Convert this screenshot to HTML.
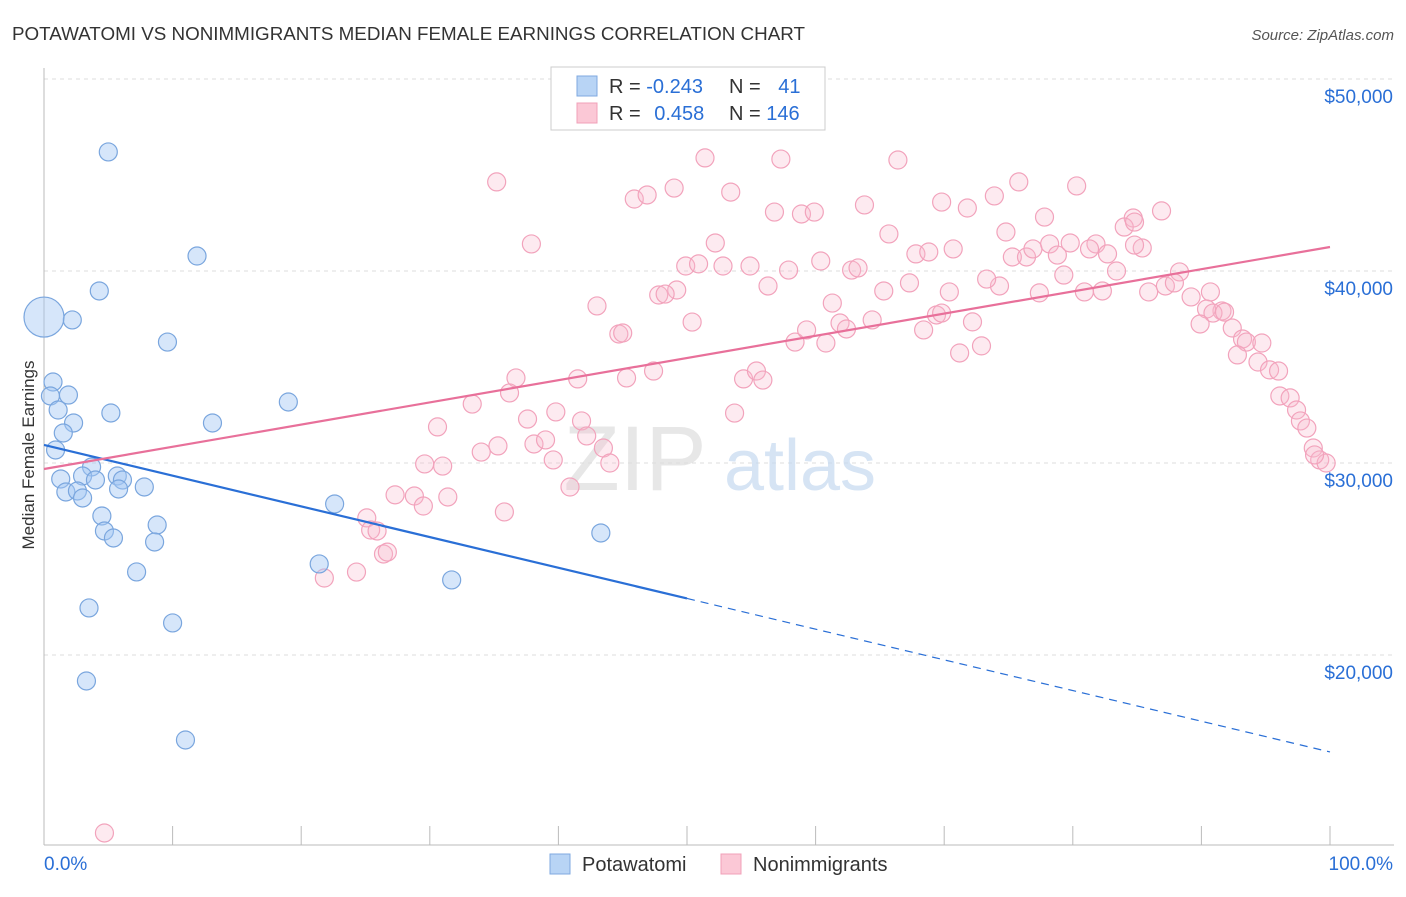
<!DOCTYPE html>
<html><head><meta charset="utf-8">
<style>
body{margin:0;background:#fff;font-family:"Liberation Sans",sans-serif;}
svg text{font-family:"Liberation Sans",sans-serif;}
</style></head>
<body>
<svg id="chart" width="1406" height="892" viewBox="0 0 1406 892">
<text x="12" y="40" font-size="18" fill="#333" textLength="793" lengthAdjust="spacingAndGlyphs">POTAWATOMI VS NONIMMIGRANTS MEDIAN FEMALE EARNINGS CORRELATION CHART</text>
<text x="1394" y="40" font-size="15" fill="#555" font-style="italic" text-anchor="end">Source: ZipAtlas.com</text>
<g id="grid"></g>
<g id="watermark">
<text x="635" y="490" font-size="92" fill="#ddd" font-family="Liberation Serif" text-anchor="middle" opacity="0.7">ZIP</text>
<text x="800" y="490" font-size="72" fill="#c5d9f0" text-anchor="middle" opacity="0.7">atlas</text>
</g>
<g id="axes"></g>
<g id="pts"></g>
<g id="trends"></g>
<text transform="translate(34,455) rotate(-90)" font-size="17" fill="#333" text-anchor="middle">Median Female Earnings</text>
<g>
<rect x="551" y="67" width="274" height="63" fill="#fff" stroke="#ccc"/>
<rect x="577" y="76" width="20" height="20" fill="#b8d4f5" stroke="#7fa9e0"/>
<rect x="577" y="103" width="20" height="20" fill="#fbc8d6" stroke="#f0a0b8"/>
<text x="609" y="93" font-size="20" fill="#333">R = <tspan fill="#2a6fd6">-0.243</tspan></text>
<text x="729" y="93" font-size="20" fill="#333">N = <tspan fill="#2a6fd6" dx="12">41</tspan></text>
<text x="609" y="120" font-size="20" fill="#333">R = <tspan fill="#2a6fd6" dx="8">0.458</tspan></text>
<text x="729" y="120" font-size="20" fill="#333">N = <tspan fill="#2a6fd6">146</tspan></text>
</g>
<g>
<rect x="550" y="854" width="20" height="20" fill="#b8d4f5" stroke="#7fa9e0"/>
<text x="582" y="871" font-size="20" fill="#333">Potawatomi</text>
<rect x="721" y="854" width="20" height="20" fill="#fbc8d6" stroke="#f0a0b8"/>
<text x="753" y="871" font-size="20" fill="#333">Nonimmigrants</text>
</g>
</svg>
<script>
const yTicks=[20000,30000,40000,50000];
const yTickLabels=["$20,000","$30,000","$40,000","$50,000"];
const xTicks=[0,10,20,30,40,50,60,70,80,90,100];
const blueX=[5.0,11.9,4.3,2.2,9.6,0.7,0.5,1.9,1.1,5.2,2.3,1.5,13.1,19.0,0.9,3.7,1.3,3.0,4.0,5.7,6.1,7.8,1.7,2.6,3.0,5.8,4.5,8.8,4.7,5.4,8.6,22.6,7.2,3.5,10.0,21.4,31.7,43.3,3.3,11.0];
const blueY=[46200,40780,38960,37450,36300,34220,33490,33540,32760,32605,32085,31564,32085,33178,30678,29793,29168,29324,29116,29324,29116,28751,28491,28543,28178,28647,27241,26772,26460,26095,25887,27866,24325,22450,21669,24742,23909,26356,18647,15574];
const blueBigX=[0];
const blueBigY=[37600];
const pinkX=[4.7,35.2,37.9,43.0,45.9,46.9,49.0,51.4,53.4,57.3,66.4,56.8,58.9,59.9,63.8,52.2,49.9,50.9,52.8,54.9,57.9,60.4,62.8,63.3,65.7,67.8,68.8,69.8,70.7,71.8,73.9,75.8,74.8,77.8,80.3,81.8,84.7,86.9,85.4,75.3,76.4,76.9,78.2,78.8,79.8,81.3,82.7,84.0,84.8,83.4,79.3,74.3,73.3,70.4,67.3,65.3,61.3,56.3,49.2,47.8,48.3,50.4,44.7,45.0,36.7,41.5,45.3,47.4,54.4,55.4,55.9,58.4,59.3,60.8,61.9,62.4,64.4,68.4,69.4,69.8,72.2,72.9,71.2,77.4,80.9,82.3,85.9,87.2,88.3,87.9,89.2,90.7,91.6,90.4,90.9,91.8,89.9,92.4,93.2,93.5,94.7,92.8,94.4,95.3,96.0,96.1,96.9,97.4,97.7,98.2,98.7,99.2,99.7,98.8,33.3,36.2,37.6,39.8,41.8,35.3,38.1,39.0,42.2,43.5,39.6,44.0,30.6,29.6,31.0,34.0,27.3,28.8,29.5,31.4,35.8,40.9,25.1,25.4,25.9,26.4,26.7,24.3,21.8,53.7,51.8,84.8];
const pinkY=[10730,44640,41410,38180,43750,43960,44320,45890,44110,45830,45780,43070,42970,43070,43440,41460,40260,40370,40260,40260,40050,40520,40050,40160,41930,40890,40990,43590,41150,43280,43910,44640,42030,42810,44430,41410,42760,43130,41200,40730,40730,41150,41410,40830,41460,41150,40890,42290,42550,40000,39790,39220,39580,38910,39380,38960,38330,39220,39010,38750,38800,37340,36720,36770,34430,34380,34430,34790,34380,34790,34320,36300,36930,36250,37290,36980,37450,36930,37710,37810,37350,36100,35730,38860,38910,38960,38910,39220,39950,39380,38650,38910,37920,38020,37810,37860,37240,37030,36460,36300,36250,35630,35260,34850,34790,33490,33390,32760,32190,31820,30780,30160,30000,30420,33070,33650,32290,32660,32190,30890,30990,31200,31410,30780,30160,30000,31880,29950,29840,30570,28340,28280,27760,28230,27450,28750,27140,26510,26460,25260,25360,24320,24010,32600,48750,41350];
const blueTrend=[30938,14950];
const pinkTrend=[29688,41250];

const NS="http://www.w3.org/2000/svg";
const X=p=>44+p*12.86;
const Y=v=>79+(50000-v)*0.0192;
function mk(tag,attrs,parent){const e=document.createElementNS(NS,tag);for(const k in attrs)e.setAttribute(k,attrs[k]);document.getElementById(parent).appendChild(e);return e;}

yTicks.forEach((t,i)=>{
  const l=mk('line',{x1:44,x2:1394,y1:Y(t),y2:Y(t),stroke:'#ddd','stroke-dasharray':'4,4'},'grid');
  
  
  const tx=mk('text',{x:1393,y:Y(t)+24,'font-size':19,fill:'#2a6fd6','text-anchor':'end'},'axes');
  tx.textContent=yTickLabels[i];
  
  
});
const ax=mk('line',{x1:44,x2:1394,y1:845,y2:845,stroke:'#bbb'},'axes');


const ay=mk('line',{x1:44,x2:44,y1:68,y2:845,stroke:'#bbb'},'axes');


xTicks.forEach(t=>{
  const l=mk('line',{x1:X(t),x2:X(t),y1:826,y2:845,stroke:'#bbb'},'axes');
  
  
});
const xl0=mk('text',{x:44,y:870,'font-size':19,fill:'#2a6fd6'},'axes');
xl0.textContent='0.0%';


const xl1=mk('text',{x:1393,y:870,'font-size':19,fill:'#2a6fd6','text-anchor':'end'},'axes');
xl1.textContent='100.0%';



pinkX.forEach((x,i)=>{
  const c=mk('circle',{cx:X(x),cy:Y(pinkY[i]),r:9,fill:'rgba(248,185,205,0.3)',stroke:'#f2a3bc','stroke-width':1.2},'pts');
  
  
});
blueX.forEach((x,i)=>{
  const c=mk('circle',{cx:X(x),cy:Y(blueY[i]),r:9,fill:'rgba(165,200,243,0.45)',stroke:'#7aa6de','stroke-width':1.2},'pts');
  
  
});
blueBigX.forEach((x,i)=>{
  const c=mk('circle',{cx:X(x),cy:Y(blueBigY[i]),r:20,fill:'rgba(165,200,243,0.45)',stroke:'#7aa6de','stroke-width':1.2},'pts');
  
  
});
const bMid=blueTrend[0]+(blueTrend[1]-blueTrend[0])*0.5;
const b1=mk('line',{x1:X(0),y1:Y(blueTrend[0]),x2:X(50),y2:Y(bMid),stroke:'#2a6fd6','stroke-width':2.2},'trends');


const b2=mk('line',{x1:X(50),y1:Y(bMid),x2:X(100),y2:Y(blueTrend[1]),stroke:'#2a6fd6','stroke-width':1.2,'stroke-dasharray':'8,6'},'trends');


const p1=mk('line',{x1:X(0),y1:Y(pinkTrend[0]),x2:X(100),y2:Y(pinkTrend[1]),stroke:'#e8709a','stroke-width':2.2},'trends');


</script>
</body></html>
